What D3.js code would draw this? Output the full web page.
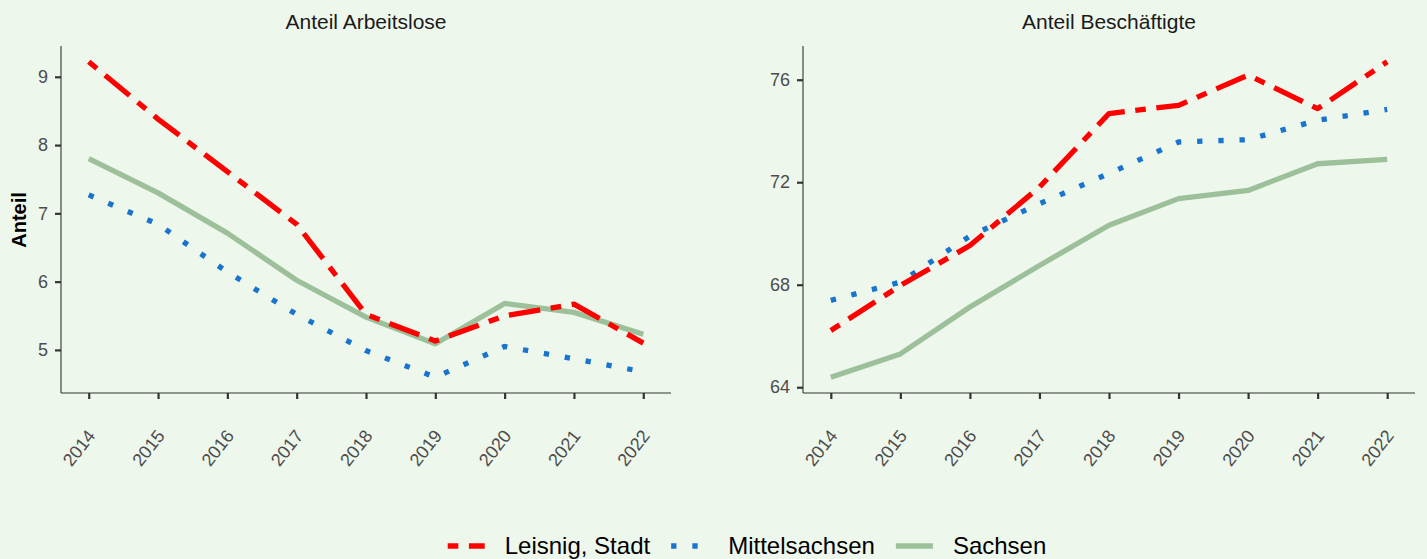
<!DOCTYPE html>
<html><head><meta charset="utf-8">
<script src="https://cdn.jsdelivr.net/npm/d3@7"></script>
<style>
html,body{margin:0;padding:0;background:#EEF7EC;}
svg{display:block;font-family:"Liberation Sans",Arial,sans-serif;}
</style></head>
<body><svg id="c" width="1427" height="559"></svg>
<script>
const years = [2014,2015,2016,2017,2018,2019,2020,2021,2022];
const seriesNames = ["Leisnig, Stadt","Mittelsachsen","Sachsen"];
const panelTitles = ["Anteil Arbeitslose","Anteil Beschäftigte"];
// Anteil Arbeitslose
const alLeisnig = [9.22,8.38,7.61,6.84,5.52,5.13,5.50,5.67,5.10];
const alMittel  = [7.27,6.84,6.14,5.52,4.99,4.60,5.05,4.87,4.68];
const alSachsen = [7.80,7.30,6.71,6.02,5.48,5.09,5.68,5.55,5.23];
// Anteil Beschäftigte
const beLeisnig = [66.21,67.97,69.53,71.81,74.68,75.00,76.18,74.87,76.70];
const beMittel  = [67.39,68.10,69.90,71.16,72.34,73.57,73.66,74.42,74.84];
const beSachsen = [64.39,65.30,67.13,68.75,70.32,71.36,71.68,72.72,72.89];
const yTicksAL = [5,6,7,8,9];
const yTicksBE = [64,68,72,76];

const colors = {"Leisnig, Stadt":"#FF0000","Mittelsachsen":"#1874CD","Sachsen":"#9CC09A"};
const LW = 5.3;
const dashes = {"Leisnig, Stadt":[2,2,6,2].map(d=>d*LW).join(","),
                "Mittelsachsen":[1,3].map(d=>d*LW).join(","),
                "Sachsen":null};

const svg = d3.select("#c");
const panels = [
  {title:panelTitles[0], data:[alLeisnig,alMittel,alSachsen], ticks:yTicksAL, x0:61, x1:671},
  {title:panelTitles[1], data:[beLeisnig,beMittel,beSachsen], ticks:yTicksBE, x0:803, x1:1415}
];
const yTop = 46, yBot = 393;

panels.forEach(p=>{
  const g = svg.append("g");
  const x = d3.scaleLinear().domain([2013.6,2022.4]).range([p.x0,p.x1]);
  const all = p.data.flat();
  const [mn,mx] = d3.extent(all); const pad=(mx-mn)*0.05;
  const y = d3.scaleLinear().domain([mn-pad,mx+pad]).range([yBot,yTop]);

  const order = [2,1,0];
  order.forEach(i=>{
    const name = seriesNames[i];
    const line = d3.line().x((d,j)=>x(years[j])).y(d=>y(d));
    g.append("path").datum(p.data[i]).attr("d",line)
      .attr("fill","none").attr("stroke",colors[name]).attr("stroke-width",LW)
      .attr("stroke-linecap","butt").attr("stroke-linejoin","round")
      .attr("stroke-dasharray",dashes[name]);
  });

  const ya = g.append("g").attr("transform",`translate(${p.x0},0)`)
    .call(d3.axisLeft(y).tickValues(p.ticks).tickSize(6).tickPadding(7).tickFormat(d3.format("d")));
  ya.select(".domain").attr("d",`M0,${yTop}V${yBot}`).attr("stroke","#333").attr("stroke-width",1.1);
  ya.selectAll(".tick line").attr("stroke","#333").attr("stroke-width",2.2);
  ya.selectAll(".tick text").attr("fill","#4D4D4D").style("font-size","18px");

  const xa = g.append("g").attr("transform",`translate(0,${yBot})`)
    .call(d3.axisBottom(x).tickValues(years).tickSize(6).tickFormat(d3.format("d")));
  xa.select(".domain").attr("d",`M${p.x0},0H${p.x1}`).attr("stroke","#333").attr("stroke-width",1.1);
  xa.selectAll(".tick line").attr("stroke","#333").attr("stroke-width",2.2);
  xa.selectAll(".tick text").attr("fill","#4D4D4D").style("font-size","18px")
    .attr("text-anchor","end").attr("dy",null).attr("y",null)
    .attr("transform","translate(7,43) rotate(-52)");

  g.append("text").attr("x",(p.x0+p.x1)/2).attr("y",29).attr("text-anchor","middle")
    .style("font-size","21px").attr("fill","#1A1A1A").text(p.title);
});

svg.append("text").attr("transform","translate(26,220) rotate(-90)")
  .attr("text-anchor","middle").style("font-size","20px").style("font-weight","bold")
  .attr("fill","#000").text("Anteil");

const lg = svg.append("g");
let cx = 0;
const keyW = 37, gapKT = 20, gapTK = 21, ly = 546;
seriesNames.forEach(name=>{
  lg.append("line").attr("x1",cx).attr("x2",cx+keyW).attr("y1",ly).attr("y2",ly)
    .attr("stroke",colors[name]).attr("stroke-width",LW).attr("stroke-linecap","butt")
    .attr("stroke-dasharray",dashes[name]);
  cx += keyW + gapKT;
  const t = lg.append("text").attr("x",cx).attr("y",ly).attr("dy","0.35em")
    .style("font-size","24px").attr("fill","#000").text(name);
  cx += t.node().getComputedTextLength() + gapTK;
});
const total = cx - gapTK;
lg.attr("transform",`translate(${747 - total/2},0)`);
</script></body></html>
